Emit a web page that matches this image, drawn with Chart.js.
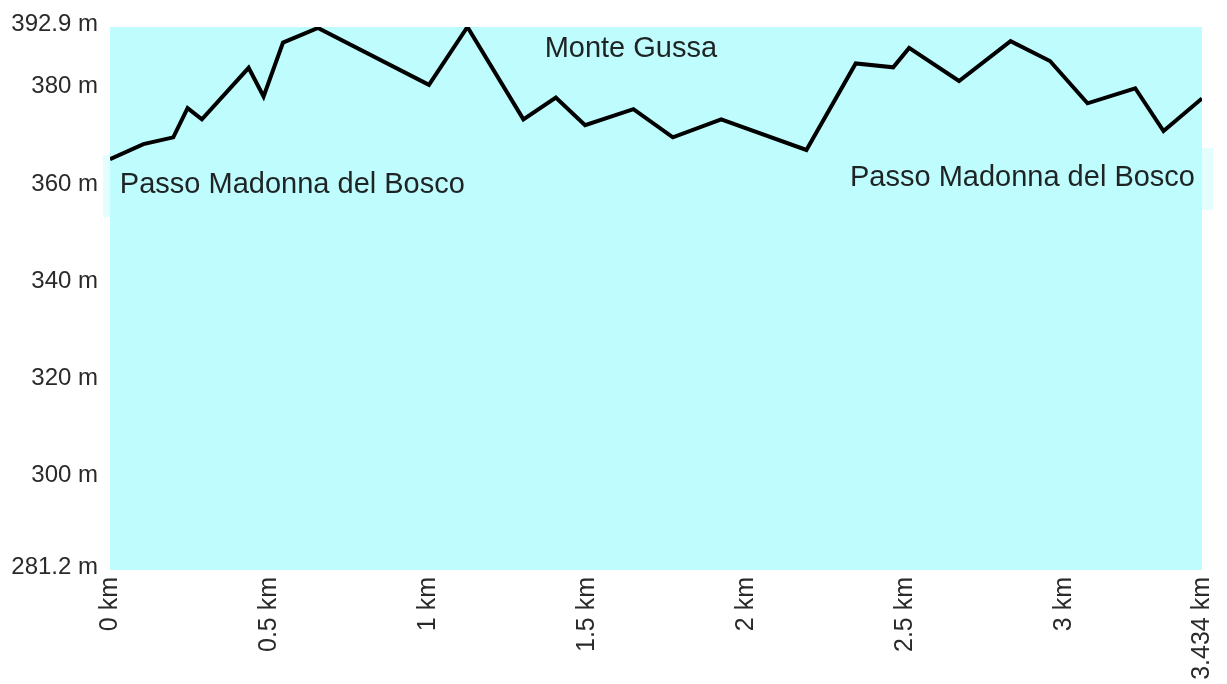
<!DOCTYPE html>
<html>
<head>
<meta charset="utf-8">
<script src="https://cdn.jsdelivr.net/npm/chart.js@4/dist/chart.umd.min.js"></script>
<style>
  html, body { margin: 0; padding: 0; background: #ffffff; }
  #wrap { width: 1227px; height: 684px; }
</style>
</head>
<body>
<div id="wrap"><canvas id="c" width="1227" height="684"></canvas></div>
<script>
// ---- data (distance in km, elevation in m) ----
const distanceKm = [0, 0.105, 0.199, 0.244, 0.289, 0.436, 0.483, 0.544, 0.654, 1.003, 1.124, 1.300, 1.402, 1.494, 1.646, 1.770, 1.922, 2.190, 2.345, 2.463, 2.513, 2.670, 2.832, 2.956, 3.074, 3.224, 3.313, 3.434];
const elevationM = [365.7, 368.8, 370.2, 376.2, 373.9, 384.5, 378.6, 389.7, 392.7, 381.0, 392.9, 373.9, 378.4, 372.7, 376.0, 370.2, 373.9, 367.6, 385.4, 384.6, 388.6, 381.8, 390.0, 385.9, 377.2, 380.3, 371.5, 378.2];

const xTickValues = [0, 0.5, 1, 1.5, 2, 2.5, 3, 3.434];
const yTickValues = [281.2, 300, 320, 340, 360, 380, 392.9];

const placeNames = ["Monte Gussa", "Passo Madonna del Bosco", "Passo Madonna del Bosco"];
const placeKm = [1.638, 0.031, 2.327];
const placeElev = [386.7, 358.75, 360.2];
const placeAlign = ["center", "left", "left"];

const PLOT_BG = '#bffcfd';
const LABEL_FONT = '29px "Liberation Sans", Arial, sans-serif';

const plotBackground = {
  id: 'plotBackground',
  beforeDraw(chart) {
    // pale label boxes, only visible where they spill past the plot edge
    const { ctx } = chart;
    const xs = chart.scales.x, ys = chart.scales.y;
    ctx.save();
    ctx.font = LABEL_FONT;
    ctx.fillStyle = '#e4fdfd';
    for (let i = 1; i < placeNames.length; i++) {
      const w = ctx.measureText(placeNames[i]).width;
      let x0 = xs.getPixelForValue(placeKm[i]);
      const yb = ys.getPixelForValue(placeElev[i]);
      if (placeAlign[i] === 'center') x0 -= w / 2;
      ctx.fillRect(x0 - 17, yb - 38, w + 35, 62);
    }
    ctx.restore();
  },
  beforeDatasetsDraw(chart) {
    const { ctx, chartArea: a } = chart;
    ctx.save();
    ctx.fillStyle = PLOT_BG;
    ctx.fillRect(a.left, a.top, a.right - a.left, a.bottom - a.top);
    ctx.restore();
  },
  afterDatasetsDraw(chart) {
    const { ctx } = chart;
    const xs = chart.scales.x, ys = chart.scales.y;
    ctx.save();
    ctx.font = LABEL_FONT;
    ctx.fillStyle = '#1e2424';
    ctx.textBaseline = 'alphabetic';
    for (let i = 0; i < placeNames.length; i++) {
      ctx.textAlign = placeAlign[i];
      ctx.fillText(placeNames[i], xs.getPixelForValue(placeKm[i]), ys.getPixelForValue(placeElev[i]));
    }
    ctx.restore();
  }
};

new Chart(document.getElementById('c'), {
  type: 'line',
  data: {
    datasets: [{
      data: distanceKm.map((x, i) => ({ x: x, y: elevationM[i] })),
      borderColor: '#000000',
      borderWidth: 4,
      borderJoinStyle: 'miter',
      pointRadius: 0,
      tension: 0,
      fill: false
    }]
  },
  options: {
    responsive: false,
    animation: false,
    layout: { padding: { left: 0, top: 27, right: 25, bottom: 0 } },
    plugins: { legend: { display: false }, tooltip: { enabled: false } },
    scales: {
      x: {
        type: 'linear',
        min: 0,
        max: 3.434,
        grid: { display: false, drawTicks: false },
        border: { display: false },
        afterBuildTicks(scale) { scale.ticks = xTickValues.map(v => ({ value: v })); },
        afterFit(scale) { scale.height = 114; scale.paddingLeft = 0; scale.paddingRight = 0; },
        ticks: {
          autoSkip: false,
          minRotation: 90,
          maxRotation: 90,
          padding: 7,
          color: '#2a2a2a',
          font: { family: '"Liberation Sans", Arial, sans-serif', size: 25 },
          callback: v => v + ' km'
        }
      },
      y: {
        type: 'linear',
        min: 281.2,
        max: 392.9,
        grid: { display: false, drawTicks: false },
        border: { display: false },
        afterBuildTicks(scale) { scale.ticks = yTickValues.map(v => ({ value: v })); },
        afterFit(scale) { scale.width = 110; },
        ticks: {
          autoSkip: false,
          padding: 12,
          labelOffset: -3,
          color: '#2a2a2a',
          font: { family: '"Liberation Sans", Arial, sans-serif', size: 24 },
          callback: v => v + ' m'
        }
      }
    }
  },
  plugins: [plotBackground]
});
</script>
</body>
</html>
